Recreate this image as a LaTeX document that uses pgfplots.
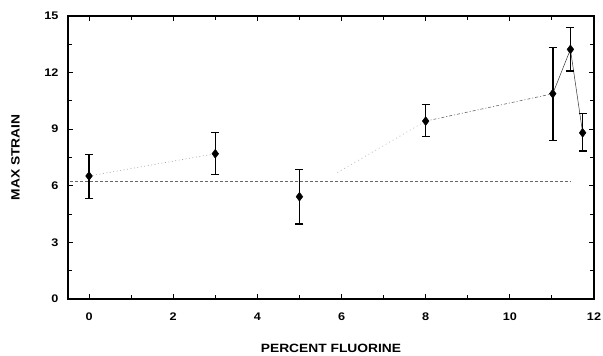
\documentclass[border=0pt]{standalone}
\usepackage{fontspec}
\setmainfont{Liberation Sans}[FakeStretch=1.15]
\usepackage{pgfplots}
\pgfplotsset{compat=1.18}
\begin{document}
\begin{tikzpicture}
\begin{axis}[
  scale only axis,
  width=526pt, height=283pt,
  xmin=-0.5, xmax=12, ymin=0, ymax=15,
  xtick={0,2,...,12}, ytick={0,3,...,15},
  minor xtick={1,3,...,11}, minor ytick={1.5,4.5,...,13.5},
  tick align=inside,
  major tick length=5pt, minor tick length=4pt,
  every tick/.style={black, line width=0.9pt},
  axis line style={black, line width=1.1pt},
  /pgf/number format/assume math mode=true,
  ticklabel style={font=\fontsize{11}{13}\selectfont\bfseries},
  xticklabel style={yshift=-10pt},
  yticklabel style={xshift=-6pt},
  xlabel={PERCENT FLUORINE},
  ylabel={MAX STRAIN},
  label style={font=\fontsize{12}{14}\selectfont\bfseries},
  xlabel style={at={(rel axis cs:0.5,-0.176)}, anchor=center},
  ylabel style={at={(rel axis cs:-0.0998,0.5)}, anchor=center},
  clip=false,
]
% reference level
\addplot[gray!80!black, line width=0.6pt, dash pattern=on 3pt off 2pt] coordinates {(-0.45,6.25) (11.45,6.25)};
% connecting lines
\addplot[gray!70, line width=0.6pt, dash pattern=on 1pt off 2.5pt] coordinates {(0,6.52) (3,7.70)};
\addplot[gray!60, line width=0.6pt, dash pattern=on 1pt off 3pt] coordinates {(5.9,6.7) (8,9.43)};
\addplot[gray!80!black, line width=0.6pt, dash pattern=on 3pt off 2pt on 1pt off 2pt] coordinates {(8,9.43) (11.02,10.88)};
\addplot[black!80, line width=0.5pt] coordinates {(11.02,10.88) (11.44,13.23) (11.73,8.81)};
% data with error bars
\addplot[only marks, black, line width=1.5pt, mark=diamond*, mark size=4.5pt, mark options={line width=0.4pt},
  error bars/.cd, y dir=both, y explicit,
  error bar style={line width=1.5pt, black},
  error mark options={rotate=90, mark size=4pt, line width=1.4pt, black}]
coordinates {
  (0,6.52) += (0,1.13) -= (0,1.18)
  (3,7.70) += (0,1.12) -= (0,1.09)
  (5,5.42) += (0,1.45) -= (0,1.45)
  (8,9.43) += (0,0.89) -= (0,0.83)
  (11.02,10.88) += (0,2.44) -= (0,2.47)
  (11.44,13.23) += (0,1.15) -= (0,1.15)
  (11.73,8.81) += (0,1.03) -= (0,0.97)
};
\end{axis}
\pgfresetboundingbox
\path[use as bounding box] ([shift={(-68pt,-57pt)}]current axis.south west) rectangle ([shift={(9pt,16pt)}]current axis.north east);
\end{tikzpicture}
\end{document}
